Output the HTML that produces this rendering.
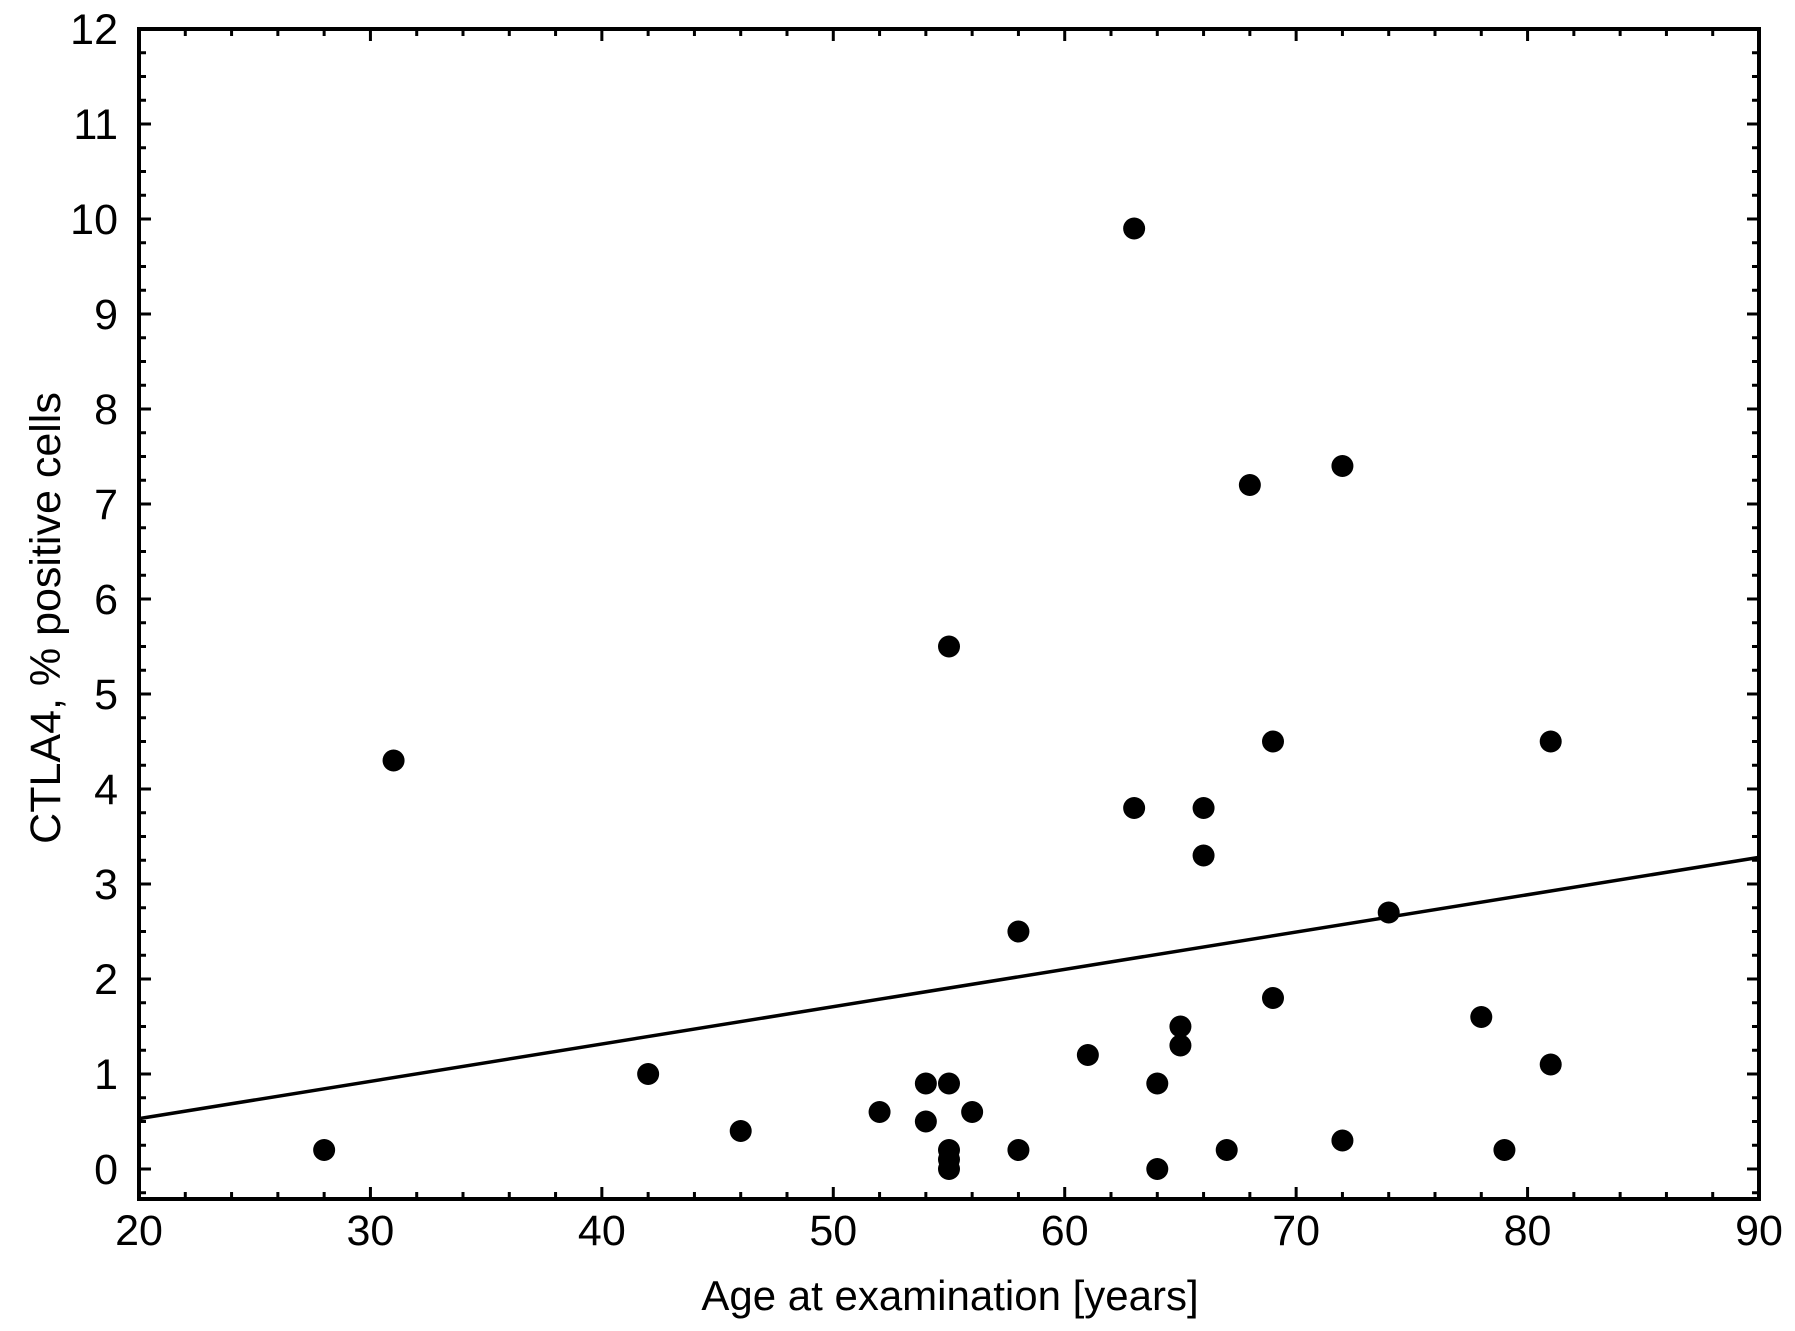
<!DOCTYPE html>
<html><head><meta charset="utf-8"><style>
html,body{margin:0;padding:0;background:#fff}
svg{display:block;font-family:"Liberation Sans",Arial,sans-serif}
</style></head><body>
<svg id="chart" width="1795" height="1331" viewBox="0 0 1795 1331">
<g id="ticks"></g>
<g id="line"></g>
<g id="pts"></g>
<rect x="139" y="29" width="1620" height="1170" fill="none" stroke="#000" stroke-width="4"/>
<text x="950" y="1310" font-size="42" text-anchor="middle">Age at examination [years]</text>
<text transform="translate(60,618) rotate(-90)" font-size="43" text-anchor="middle">CTLA4, % positive cells</text>
</svg>
<script>
const ages=[28,31,42,46,52,54,54,55,55,55,55,55,56,58,58,61,63,63,64,64,65,65,66,66,67,68,69,69,72,72,74,78,79,81,81];
const ctla4=[0.2,4.3,1.0,0.4,0.6,0.9,0.5,5.5,0.9,0.2,0.1,0.0,0.6,2.5,0.2,1.2,9.9,3.8,0.9,0.0,1.5,1.3,3.8,3.3,0.2,7.2,4.5,1.8,7.4,0.3,2.7,1.6,0.2,4.5,1.1];
const xTicks=[20,30,40,50,60,70,80,90];
const yTicks=[0,1,2,3,4,5,6,7,8,9,10,11,12];
const fitX=[20,90];
const fitY=[0.53,3.28];
const NS='http://www.w3.org/2000/svg';
const X=v=>139+(v-20)*(1759-139)/70;
const Y=v=>1169-v*(1169-29)/12;
function mk(t,a,p){const e=document.createElementNS(NS,t);for(const k in a)e.setAttribute(k,a[k]);p.appendChild(e);return e;}
const tg=document.getElementById('ticks');
for(let v=20;v<=90;v+=2){const L=(v%10===0)?12:7;
 const t1=mk('line',{x1:X(v),x2:X(v),y1:1199,y2:1199-L,stroke:'#000','stroke-width':3},tg);
 
 
 const t2=mk('line',{x1:X(v),x2:X(v),y1:29,y2:29+L,stroke:'#000','stroke-width':3},tg);
 
 }
for(let v=-0.25;v<=12;v+=0.25){const L=(Math.abs(v-Math.round(v))<1e-6)?12:7;
 const t1=mk('line',{x1:139,x2:139+L,y1:Y(v),y2:Y(v),stroke:'#000','stroke-width':3},tg);
 
 
 const t2=mk('line',{x1:1759,x2:1759-L,y1:Y(v),y2:Y(v),stroke:'#000','stroke-width':3},tg);
 
 }
xTicks.forEach(v=>{const t=mk('text',{x:X(v),y:1245,'font-size':43,'text-anchor':'middle'},tg);t.textContent=v;
 
 });
yTicks.forEach(v=>{const t=mk('text',{x:118,y:Y(v)+15,'font-size':43,'text-anchor':'end'},tg);t.textContent=v;
 
 });
const lg=document.getElementById('line');
const ln=mk('line',{x1:X(fitX[0]),y1:Y(fitY[0]),x2:X(fitX[1]),y2:Y(fitY[1]),stroke:'#000','stroke-width':3.5},lg);


const pg=document.getElementById('pts');
ages.forEach((a,i)=>{const c=mk('circle',{cx:X(a),cy:Y(ctla4[i]),r:11,fill:'#000'},pg);
 
 });
</script>
</body></html>
